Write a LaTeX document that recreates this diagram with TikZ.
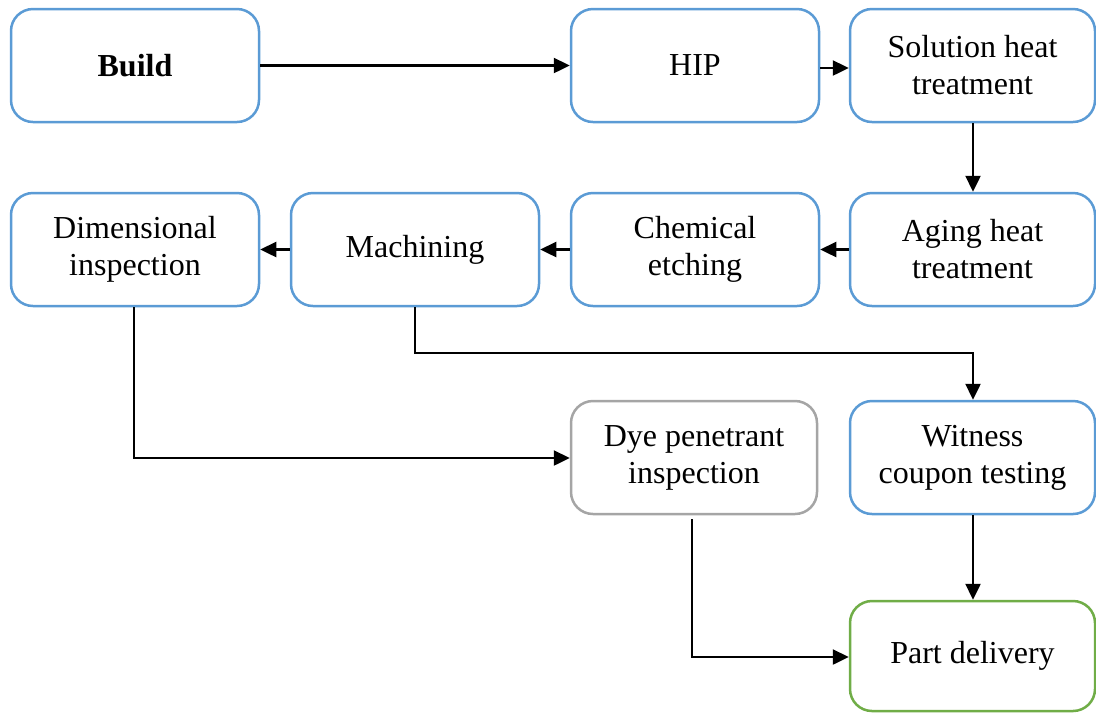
\documentclass[tikz,border=0pt]{standalone}
\usepackage{fontspec}
\setmainfont{Liberation Serif}
\usetikzlibrary{arrows.meta}
\definecolor{boxblue}{RGB}{91,155,213}
\definecolor{boxgray}{RGB}{165,165,165}
\definecolor{boxgreen}{RGB}{112,173,71}
\tikzset{
  box/.style={draw=boxblue, line width=1.25pt, rounded corners=11pt, fill=white,
    minimum width=124pt, minimum height=56.5pt, align=center, inner sep=2pt,
    font=\fontsize{16}{18.5}\selectfont},
  conn/.style={line width=1.2pt, -{Triangle[length=8pt,width=7.5pt]}}
}
\begin{document}
\begin{tikzpicture}[x=0.5pt,y=-0.5pt]
\useasboundingbox (0,0) rectangle (1096,714);
\node[box] (build) at (135,65.5) {\textbf{Build}};
\node[box] (hip) at (695,65.5) {HIP};
\node[box, minimum width=122.5pt] (sol) at (972.5,65.5) {Solution heat\\treatment};
\node[box] (dim) at (135,249.5) {Dimensional\\inspection};
\node[box] (mach) at (415,249.5) {Machining};
\node[box] (chem) at (695,249.5) {Chemical\\etching};
\node[box, minimum width=122.5pt] (aging) at (972.5,249.5) {Aging heat\\treatment};
\node[box, draw=boxgray, minimum width=123pt] (dye) at (694,457.5) {Dye penetrant\\inspection};
\node[box, minimum width=122.5pt] (wit) at (972.5,457.5) {Witness\\coupon testing};
\node[box, draw=boxgreen, minimum width=122.5pt, minimum height=55pt] (part) at (972.5,656) {Part delivery};
\coordinate (m1) at (415,353);
\coordinate (m2) at (973,353);
\coordinate (d1) at (134,458);
\coordinate (y1) at (692,519);
\coordinate (y2) at (692,657);
\draw[conn] (build.east) -- (hip.west);
\draw[conn] (hip.east |- 0,68) -- (sol.west |- 0,68);
\draw[conn] (sol.south -| 973,0) -- (aging.north -| 973,0);
\draw[conn] (aging.west) -- (chem.east);
\draw[conn] (chem.west) -- (mach.east);
\draw[conn] (mach.west) -- (dim.east);
\draw[conn] (mach.south) -- (m1) -- (m2) -- (wit.north -| m2);
\draw[conn] (dim.south -| d1) -- (d1) -- (dye.west |- d1);
\draw[conn] (y1) -- (y2) -- (part.west |- y2);
\draw[conn] (wit.south -| 973,0) -- (part.north -| 973,0);
\end{tikzpicture}
\end{document}
